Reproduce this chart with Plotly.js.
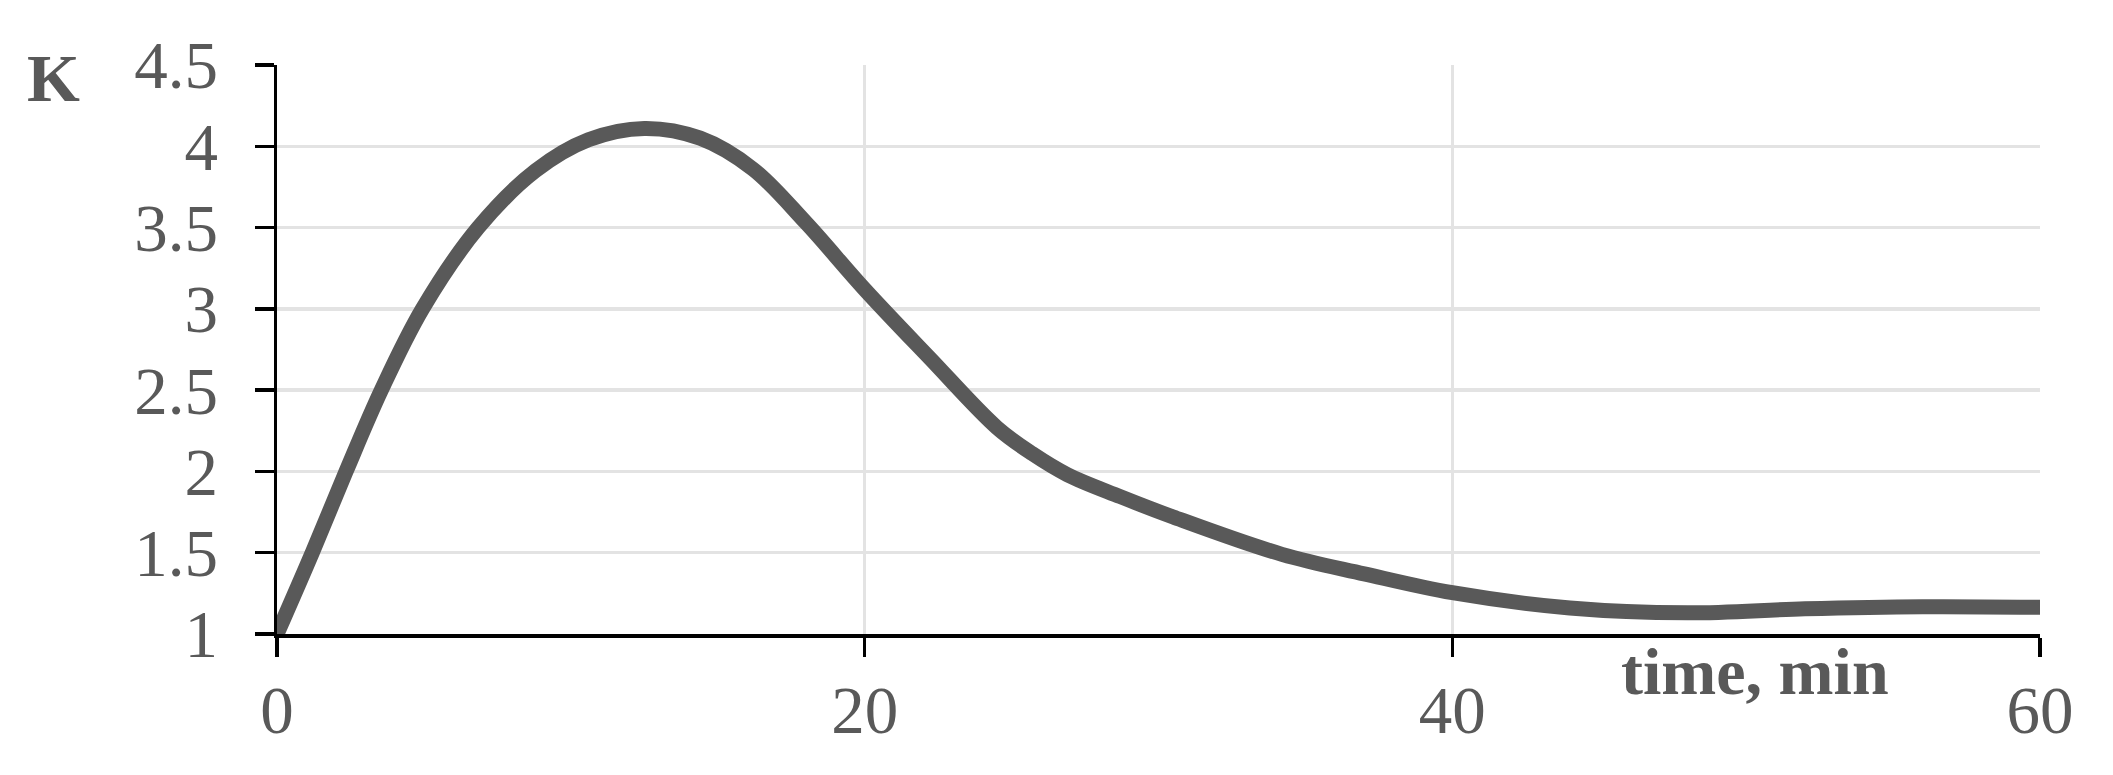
<!DOCTYPE html>
<html>
<head>
<meta charset="utf-8">
<script src="https://cdn.plot.ly/plotly-3.0.1.min.js"></script>
<style>html,body{margin:0;padding:0;background:#fff;}#chart{width:2113px;height:775px;}</style>
</head>
<body>
<div id="chart"></div>
<script>
// time, min
const timeMin = [0, 1.2, 2.35, 3.55, 4.95, 6.85, 8.8, 10.6, 12.5, 14.4, 16.2, 18.0, 20.0, 22.2, 24.5, 25.7, 26.9, 28.7, 30.5, 34.2, 37.0, 40.0, 44.0, 48.0, 52.0, 56.0, 60.26];
// K
const kValues = [1.0, 1.5, 2.0, 2.5, 3.0, 3.5, 3.85, 4.04, 4.11, 4.05, 3.86, 3.53, 3.12, 2.70, 2.27, 2.11, 1.98, 1.845, 1.72, 1.49, 1.37, 1.254, 1.16, 1.13, 1.155, 1.168, 1.164];
const xTicks = [0, 20, 40, 60];
const yTicks = [1, 1.5, 2, 2.5, 3, 3.5, 4, 4.5];
const yTickText = ['1', '1.5', '2', '2.5', '3', '3.5', '4', '4.5'];

const textColor = '#595959';
const fontFam = '"Liberation Serif", "Times New Roman", serif';

const trace = {
  x: timeMin, y: kValues, type: 'scatter', mode: 'lines',
  line: {color: '#595959', width: 15, shape: 'spline', smoothing: 1},
  hoverinfo: 'skip'
};

const layout = {
  width: 2113, height: 775,
  margin: {l: 277, r: 73, t: 65, b: 141, pad: 0},
  paper_bgcolor: '#ffffff', plot_bgcolor: '#ffffff',
  showlegend: false,
  font: {family: fontFam, color: textColor, size: 66},
  xaxis: {
    range: [0, 60], tickvals: xTicks, ticktext: xTicks.map(String),
    showgrid: true, gridcolor: '#e3e3e3', gridwidth: 3.5,
    showline: true, linecolor: '#000000', linewidth: 3.5,
    ticks: 'outside', ticklen: 19, tickwidth: 3.5, tickcolor: '#000000',
    ticklabelstandoff: -4,
    tickfont: {family: fontFam, color: textColor, size: 67},
    zeroline: false, fixedrange: true
  },
  yaxis: {
    range: [1, 4.5], tickvals: yTicks, ticktext: yTickText,
    showgrid: true, gridcolor: '#e3e3e3', gridwidth: 3.5,
    showline: true, linecolor: '#000000', linewidth: 3.5,
    ticks: 'outside', ticklen: 19, tickwidth: 3.5, tickcolor: '#000000',
    ticklabelstandoff: 23,
    tickfont: {family: fontFam, color: textColor, size: 67},
    zeroline: false, fixedrange: true
  },
  annotations: [
    {text: '<b>K</b>', xref: 'paper', yref: 'paper', x: -0.127, y: 0.977,
     xanchor: 'center', yanchor: 'middle', showarrow: false,
     font: {family: fontFam, color: textColor, size: 68}},
    {text: '<b>time, min</b>', xref: 'x', yref: 'paper', x: 50.3, y: (634 - 671) / 569,
     xanchor: 'center', yanchor: 'middle', showarrow: false,
     font: {family: fontFam, color: textColor, size: 66}}
  ]
};

Plotly.newPlot('chart', [trace], layout, {staticPlot: true, displayModeBar: false});
</script>
</body>
</html>
